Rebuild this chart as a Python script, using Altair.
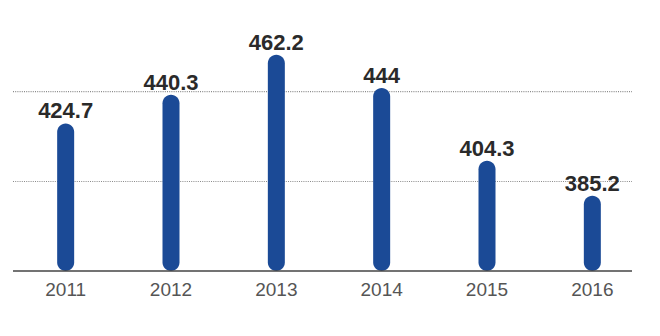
import altair as alt
import pandas as pd

years = ["2011", "2012", "2013", "2014", "2015", "2016"]
values = [424.7, 440.3, 462.2, 444, 404.3, 385.2]
grid_values = [393, 442]
y_min, y_max = 344.2, 492.0

df = pd.DataFrame({"year": years, "value": values})
grid_df = pd.DataFrame({"g": grid_values})
base_df = pd.DataFrame({"g": [y_min]})

W, H = 632, 271

x_enc = alt.X("year:N", sort=years,
              scale=alt.Scale(paddingInner=0, paddingOuter=0),
              axis=alt.Axis(title=None, ticks=False, domain=False, grid=False,
                            labelAngle=0, labelFont="Liberation Sans Narrow, Arial Narrow, Liberation Sans",
                            labelFontSize=19, labelColor="#555555",
                            labelBaseline="alphabetic", labelPadding=24))
y_scale = alt.Scale(domain=[y_min, y_max], zero=False, nice=False)

grid = alt.Chart(grid_df).mark_rule(color="#8a8a8a", strokeDash=[1, 1.2], strokeWidth=1.2).encode(
    y=alt.Y("g:Q", scale=y_scale, axis=None),
    x=alt.value(0), x2=alt.value(619)
)

bars = alt.Chart(df).mark_bar(size=17, cornerRadius=8.5, color="#1b4a96").encode(
    x=x_enc,
    y=alt.Y("value:Q", scale=y_scale, axis=None),
    y2=alt.datum(y_min),
)

labels = alt.Chart(df).mark_text(baseline="alphabetic", dy=-5, fontSize=22, fontWeight="bold",
                                 font="Liberation Sans, Arial", color="#2a2a2a").encode(
    x=alt.X("year:N", sort=years),
    y=alt.Y("value:Q", scale=y_scale, axis=None),
    text=alt.Text("value:Q"),
)

baseline = alt.Chart(base_df).mark_rule(color="#444444", strokeWidth=1.5).encode(
    y=alt.Y("g:Q", scale=y_scale, axis=None),
    x=alt.value(0), x2=alt.value(619)
)

chart = alt.layer(grid, bars, baseline, labels).properties(
    width=W, height=H,
    autosize=alt.AutoSizeParams(type="none"),
    padding={"left": 13, "top": 0, "right": 15, "bottom": 65},
    background="white",
).configure_view(stroke=None)

chart.save("out.html", embed_options={"renderer": "svg", "actions": False})
